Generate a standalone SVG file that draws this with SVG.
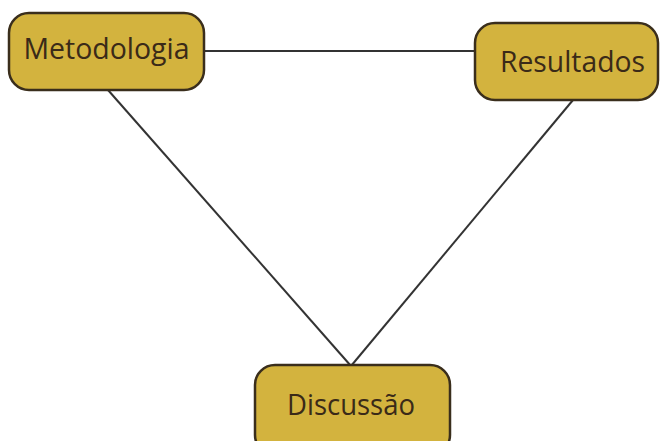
<svg xmlns="http://www.w3.org/2000/svg" width="662" height="441" viewBox="0 0 662 441">
  <style>
    .box { fill: #D3B33E; stroke: #3A2E1C; stroke-width: 2.5; }
    .label { font-family: "Open Sans", "Noto Sans", sans-serif; font-size: 30px; fill: #3A2A18; text-anchor: middle; }
    .link { stroke: #333333; stroke-width: 2; fill: none; }
  </style>
  <rect width="662" height="441" fill="#FFFFFF"/>
  <g id="connectors">
    <line class="link" x1="204" y1="51" x2="476" y2="51"/>
    <line class="link" x1="108" y1="90" x2="351" y2="366"/>
    <line class="link" x1="573" y1="100" x2="351" y2="366"/>
  </g>
  <g id="metodologia">
    <rect class="box" x="9" y="13" width="195" height="77" rx="20" ry="20"/>
    <text class="label" x="106.5" y="59" textLength="166" lengthAdjust="spacingAndGlyphs">Metodologia</text>
  </g>
  <g id="resultados">
    <rect class="box" x="475" y="23" width="183" height="77" rx="20" ry="20"/>
    <text class="label" x="572.5" y="72" textLength="145" lengthAdjust="spacingAndGlyphs">Resultados</text>
  </g>
  <g id="discussao">
    <rect class="box" x="255" y="365" width="195" height="90" rx="20" ry="20"/>
    <text class="label" x="351" y="415" textLength="128" lengthAdjust="spacingAndGlyphs">Discussão</text>
  </g>
</svg>
